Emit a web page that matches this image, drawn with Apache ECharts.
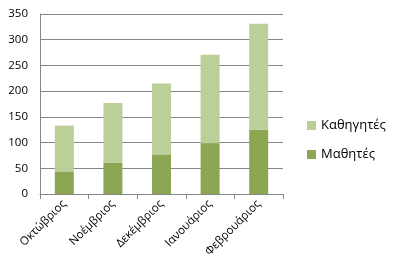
<!DOCTYPE html>
<html><head><meta charset="utf-8">
<script src="https://cdn.jsdelivr.net/npm/echarts@6/dist/echarts.min.js"></script>
<style>html,body{margin:0;padding:0;background:#fff}#c{width:400px;height:280px}</style>
</head><body><div id="c"></div>
<script>
const categories = ['Οκτώβριος','Νοέμβριος','Δεκέμβριος','Ιανουάριος','Φεβρουάριος'];
const students = [44, 61, 77, 99, 125];
const teachers = [89, 116, 138, 172, 206];
const yTicks = [0, 50, 100, 150, 200, 250, 300, 350];
const font = 'Open Sans, Liberation Sans, Arial, sans-serif';
const chart = echarts.init(document.getElementById('c'), null, {renderer:'canvas'});
chart.setOption({
  animation:false,
  grid:{left:40, top:14, width:243, height:180, containLabel:false},
  legend:{
    data:['Καθηγητές','Μαθητές'], orient:'vertical', left:302, top:114,
    itemWidth:9, itemHeight:9, itemGap:16, icon:'rect',
    textStyle:{fontFamily:font, fontSize:13, color:'#000'}
  },
  xAxis:{type:'category', data:categories,
    axisLine:{lineStyle:{color:'#868686'}},
    axisTick:{show:true, alignWithLabel:false, length:5, lineStyle:{color:'#868686'}},
    axisLabel:{rotate:45, interval:0, fontFamily:font, fontSize:11.5, color:'#000', margin:8}
  },
  yAxis:{type:'value', min:yTicks[0], max:yTicks[yTicks.length-1], interval:50,
    axisLine:{show:true, lineStyle:{color:'#868686'}},
    axisTick:{show:false},
    splitLine:{lineStyle:{color:'#868686'}},
    axisLabel:{fontFamily:font, fontSize:11.5, color:'#000', margin:12}
  },
  series:[
    {name:'Μαθητές', type:'bar', stack:'a', data:students, barWidth:19, itemStyle:{color:'#8CA753'}},
    {name:'Καθηγητές', type:'bar', stack:'a', data:teachers, barWidth:19, itemStyle:{color:'#BBCF98'}}
  ]
});
</script></body></html>
